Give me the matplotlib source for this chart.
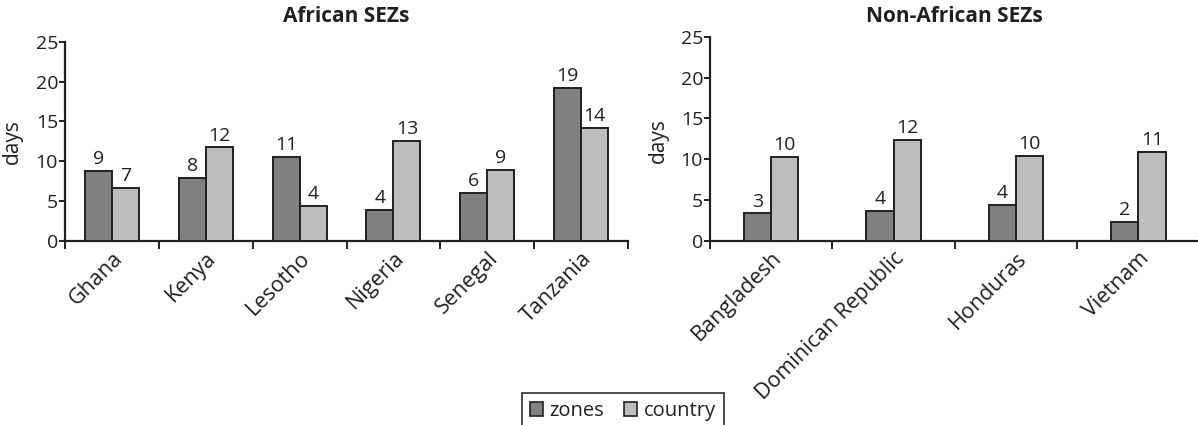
import matplotlib
matplotlib.use("Agg")
import matplotlib.pyplot as plt
import numpy as np
from matplotlib.patches import Patch

# ---- data ----
african_countries = ["Ghana", "Kenya", "Lesotho", "Nigeria", "Senegal", "Tanzania"]
african_zones = [8.8, 7.9, 10.55, 3.85, 6.05, 19.25]
african_country = [6.65, 11.75, 4.35, 12.6, 8.9, 14.2]

non_african_countries = ["Bangladesh", "Dominican Republic", "Honduras", "Vietnam"]
non_african_zones = [3.35, 3.65, 4.35, 2.35]
non_african_country = [10.25, 12.4, 10.4, 10.85]

series_names = ["zones", "country"]
yticks = [0, 5, 10, 15, 20, 25]

# ---- style ----
plt.rcParams['font.family'] = ['Open Sans', 'DejaVu Sans']
TXT = "#231f20"
C_ZONE = "#7f8081"
C_CTRY = "#bcbdbf"
FS_TICK = 14
FS_XLAB = 15.5
FS_VAL = 14
FS_TITLE = 15
FS_YLAB = 15
FS_LEG = 14.5

W, H = 1198, 425
fig = plt.figure(figsize=(W / 100, H / 100), dpi=100)

def px_axes(x0, x1, ytop, ybot):
    return fig.add_axes([x0 / W, 1 - ybot / H, (x1 - x0) / W, (ybot - ytop) / H])

ax1 = px_axes(65, 628, 42, 240.7)
ax2 = px_axes(710, 1199.5, 36.7, 240.7)

def draw(ax, cats, zones, ctry, bw, ylab_x, ylab_y):
    x = np.arange(len(cats))
    b1 = ax.bar(x - bw / 2, zones, bw, color=C_ZONE, edgecolor=TXT, linewidth=1.4, zorder=3)
    b2 = ax.bar(x + bw / 2, ctry, bw, color=C_CTRY, edgecolor=TXT, linewidth=1.4, zorder=3)
    for bars in (b1, b2):
        for r in bars:
            v = r.get_height()
            ax.annotate(f"{v:.0f}", (r.get_x() + r.get_width() / 2, v),
                        xytext=(0, 2), textcoords="offset points",
                        ha="center", va="bottom", fontsize=FS_VAL, color=TXT)
    ax.set_xlim(-0.5, len(cats) - 0.5)
    ax.set_ylim(0, 25)
    ax.set_yticks(yticks)
    ax.set_yticklabels([str(t) for t in yticks], fontsize=FS_TICK, color=TXT)
    ax.set_xticks(x)
    ax.set_xticklabels(cats, rotation=45, ha="right", va="top",
                       rotation_mode="anchor", fontsize=FS_XLAB, color=TXT)
    ax.set_xticks(np.arange(len(cats) + 1) - 0.5, minor=True)
    ax.tick_params(axis="x", which="major", length=0, pad=5)
    ax.tick_params(axis="x", which="minor", length=5.5, width=1.4, color=TXT, direction="out")
    ax.tick_params(axis="y", length=4, width=1.4, color=TXT, direction="out", pad=1)
    for s in ("top", "right"):
        ax.spines[s].set_visible(False)
    for s in ("left", "bottom"):
        ax.spines[s].set_linewidth(1.6)
        ax.spines[s].set_color(TXT)
    ax.set_ylabel("days", fontsize=FS_YLAB, color=TXT)
    ax.yaxis.set_label_coords(ylab_x, ylab_y)
    return b1, b2

draw(ax1, african_countries, african_zones, african_country, 0.288, -0.074, 0.5)
draw(ax2, non_african_countries, non_african_zones, non_african_country, 0.223, -0.085, 0.49)

for ax, title in ((ax1, "African SEZs"), (ax2, "Non-African SEZs")):
    bb = ax.get_position()
    fig.text((bb.x0 + bb.x1) / 2, 1 - 17 / H, title, ha="center", va="center",
             fontsize=FS_TITLE, fontweight="bold", color=TXT)

handles = [Patch(facecolor=C_ZONE, edgecolor=TXT, linewidth=1.2, label=series_names[0]),
           Patch(facecolor=C_CTRY, edgecolor=TXT, linewidth=1.2, label=series_names[1])]
leg = fig.legend(handles=handles, loc="upper center", bbox_to_anchor=(623 / W, 1 - 393 / H),
                 ncol=2, fontsize=FS_LEG, frameon=True, fancybox=False, handlelength=0.65,
                 handleheight=0.65, handletextpad=0.3, columnspacing=1.0,
                 borderpad=0.4, borderaxespad=0)
leg.get_frame().set_edgecolor(TXT)
leg.get_frame().set_linewidth(1.4)
for t in leg.get_texts():
    t.set_color(TXT)

fig.savefig("out.png", dpi=100)
